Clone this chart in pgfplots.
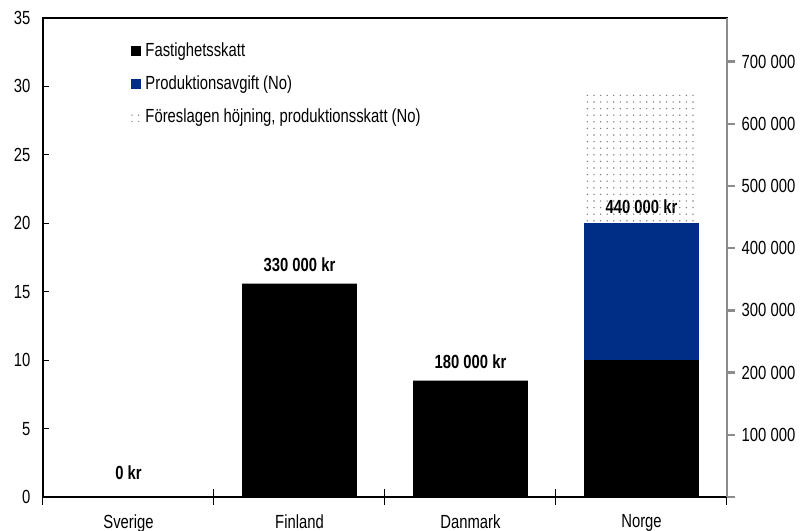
\documentclass[border=0pt]{standalone}
\usepackage{fontspec}
\setmainfont{Liberation Sans}[FakeStretch=0.78]
\usepackage{pgfplots}
\pgfplotsset{compat=1.18}
\usetikzlibrary{patterns.meta}
\definecolor{nblue}{RGB}{0,46,135}
\definecolor{axgray}{RGB}{140,140,140}
\newcommand{\fs}{\fontsize{9.5}{11}\selectfont}

\begin{document}
\fs
\begin{tikzpicture}
\path[use as bounding box] (-21.5pt,-17pt) rectangle (378.5pt,248.5pt);
\begin{axis}[
    at={(0,0)}, anchor=south west,
    scale only axis,
    width=342pt, height=239.5pt,
    ybar stacked,
    bar width=0.67,
    xmin=-0.5, xmax=3.5,
    ymin=0, ymax=35,
    xtick={0,1,2,3},
    xticklabels={Sverige,Finland,Danmark,Norge},
    major x tick style={draw=none},
    minor xtick={-0.5,0.5,1.5,2.5,3.5},
    minor x tick style={black, line width=0.5pt},
    minor tick length=8pt,
    xtick align=center,
    xticklabel style={yshift=-4pt, font=\fs},
    ytick={0,5,...,35},
    yticklabels={0,5,10,15,20,25,30,35},
    yticklabel style={xshift=-3pt, font=\fs},
    ytick pos=left, xtick pos=bottom,
    ytick align=inside,
    major tick length=3pt,
    y tick style={black, line width=0.5pt},
    axis line style={black, line width=0.6pt},
    legend style={draw=none, fill=none, at={(0.12,0.965)}, anchor=north west,
        font=\fs, row sep=4pt,
        /tikz/every even column/.append style={column sep=2pt}},
    legend cell align=left,
    legend image code/.code={\path[#1] (0pt,-2.5pt) rectangle (5pt,2.5pt);},
]
\addplot[fill=black, draw=none, legend image post style={draw=black}] coordinates {(0,0) (1,15.6) (2,8.5) (3,10)};
\addplot[fill=nblue, draw=none, legend image post style={draw=black}] coordinates {(0,0) (1,0) (2,0) (3,10)};
\addplot[pattern={Dots[distance=3.3pt, radius=0.4pt]}, pattern color=black!50, draw=none] coordinates {(0,0) (1,0) (2,0) (3,9.7)};
\legend{Fastighetsskatt, Produktionsavgift (No), {Föreslagen höjning, produktionsskatt (No)}}
\node[font=\bfseries\fs, above] at (axis cs:0,0.8) {0 kr};
\node[font=\bfseries\fs, above] at (axis cs:1,16.0) {330 000 kr};
\node[font=\bfseries\fs, above] at (axis cs:2,8.9) {180 000 kr};
\node[font=\bfseries\fs, above] at (axis cs:3,20.2) {440 000 kr};
\end{axis}
\begin{axis}[
    at={(0,0)}, anchor=south west,
    scale only axis,
    width=342pt, height=239.5pt,
    xmin=-0.5, xmax=3.5,
    ymin=0, ymax=770000,
    scaled y ticks=false,
    axis x line=none,
    axis y line*=right,
    axis line style={axgray, line width=1.3pt, -},
    ytick={0,100000,...,700000},
    yticklabels={,100 000,200 000,300 000,400 000,500 000,600 000,700 000},
    yticklabel style={font=\fs, xshift=0pt},
    ytick align=outside,
    major tick length=4pt,
    y tick style={axgray, line width=1.2pt},
]
\addplot[draw=none] coordinates {(0,0)};
\end{axis}
\end{tikzpicture}
\end{document}
